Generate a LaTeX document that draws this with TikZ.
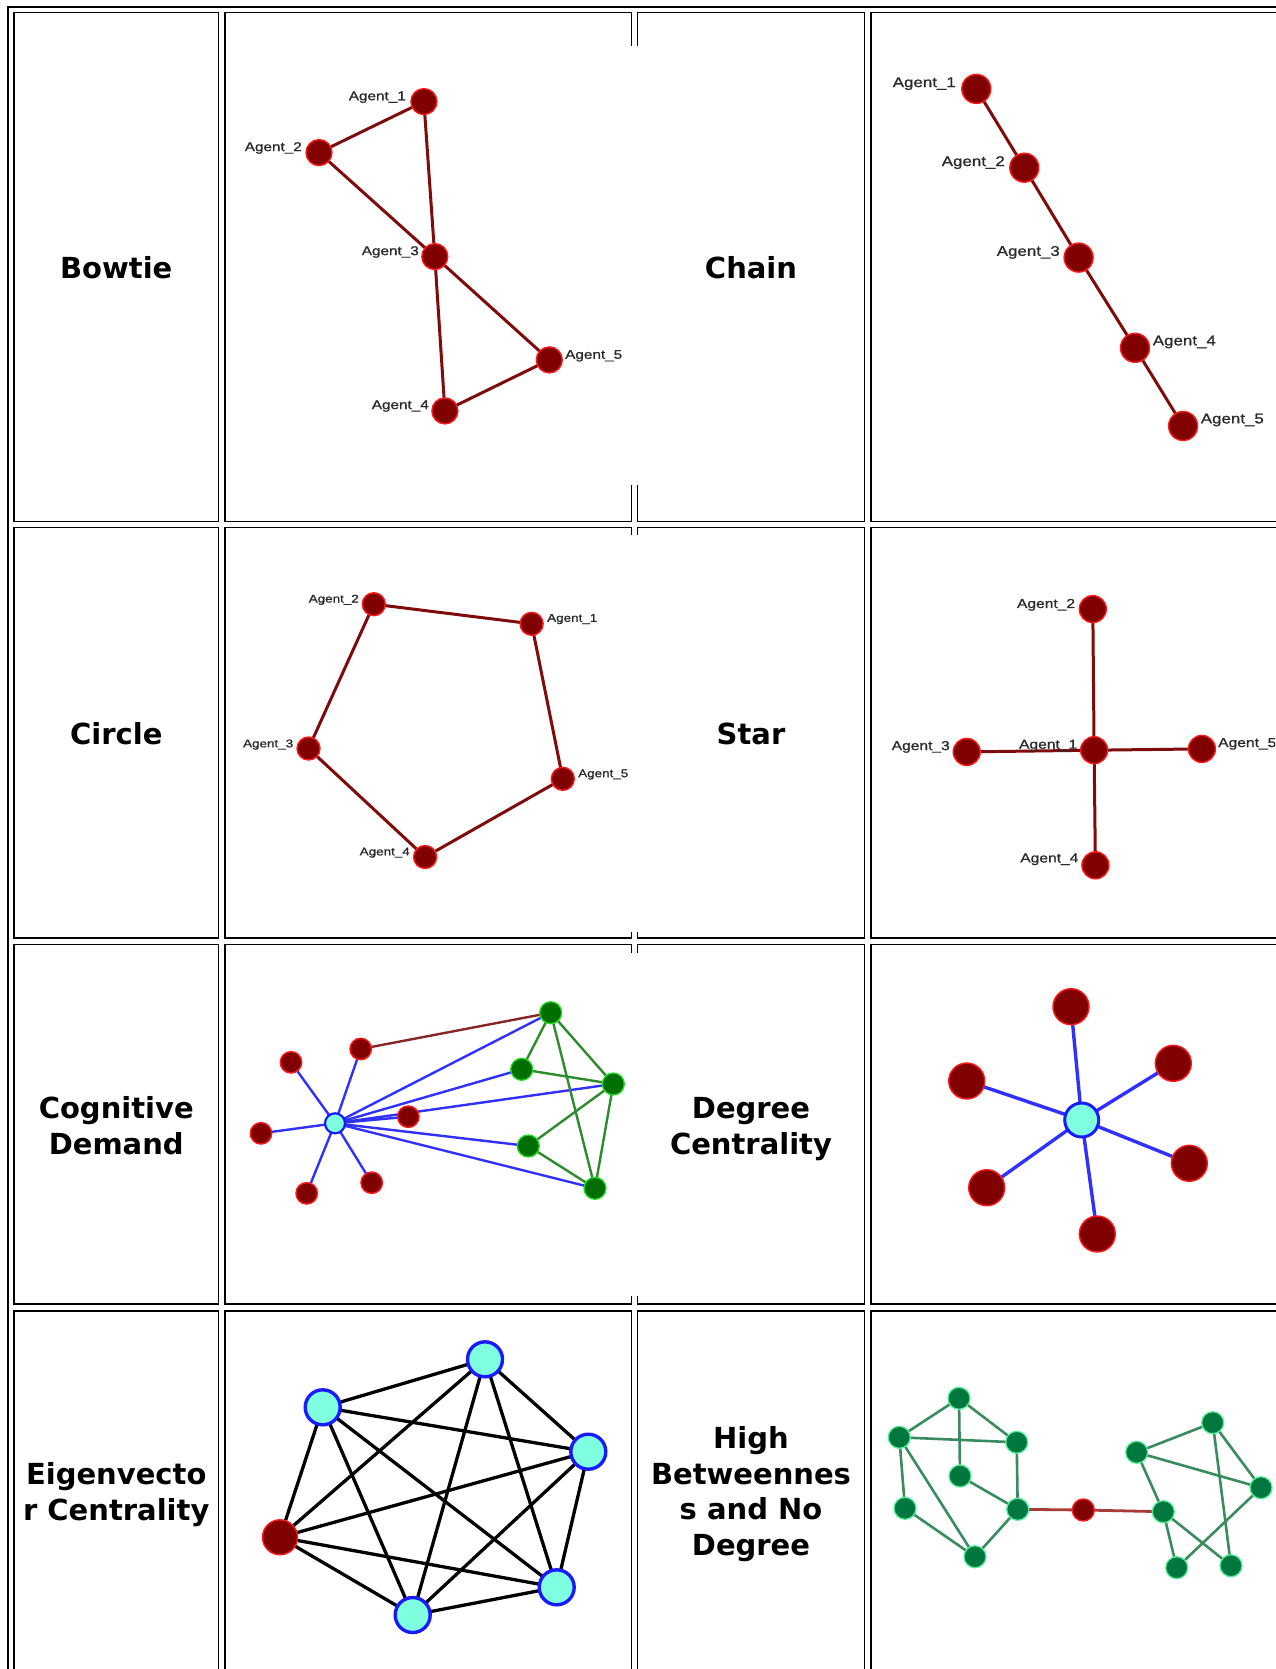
\documentclass[tikz,border=0pt]{standalone}
\usepackage{fontspec}
\newfontfamily\ttlfont{DejaVu Sans}
\newfontfamily\labfont{Liberation Sans}[FakeStretch=1.2,FakeBold=1]
\usetikzlibrary{backgrounds}
\pgfdeclarelayer{tablelayer}
\pgfdeclarelayer{edgelayer}
\pgfsetlayers{tablelayer,edgelayer,main}
\definecolor{nodered}{HTML}{800000}
\definecolor{rimred}{HTML}{FF1A1A}
\definecolor{edgered}{HTML}{7E0C0C}
\definecolor{aqua}{HTML}{7FFFE0}
\definecolor{rimblue}{HTML}{1A1AFF}
\definecolor{edgeblue}{HTML}{3030FF}
\definecolor{gnode}{HTML}{006E00}
\definecolor{grim}{HTML}{22DD22}
\definecolor{gedge}{HTML}{2E8B2E}
\definecolor{tnode}{HTML}{00773F}
\definecolor{trim}{HTML}{55EE99}
\definecolor{tedge}{HTML}{3A8C5E}
\definecolor{bridge}{HTML}{A83A3A}
\definecolor{brownedge}{HTML}{8B2525}
\definecolor{labgrey}{HTML}{2A2A2A}
\tikzset{
  cellline/.style={line width=1.5pt, draw=black},
  outerline/.style={line width=2.5pt, draw=black},
  agent/.style={circle, fill=nodered, draw=rimred, line width=1.4pt, inner sep=0pt, minimum size=#1},
  aquanode/.style={circle, fill=aqua, draw=rimblue, line width=#1, inner sep=0pt},
  greennode/.style={circle, fill=gnode, draw=grim, line width=1.3pt, inner sep=0pt, minimum size=22pt},
  tealnode/.style={circle, fill=tnode, draw=trim, line width=1.3pt, inner sep=0pt, minimum size=22pt},
  lab/.style={font=\labfont\fontsize{#1}{#1}\selectfont, text=labgrey, inner sep=0pt},
  ttl/.style={font=\ttlfont\bfseries\fontsize{29}{35.5}\selectfont, align=center, inner sep=0pt},
  redge/.style={draw=edgered, line width=3pt},
  bedge/.style={draw=edgeblue, line width=#1},
  gredge/.style={draw=gedge, line width=2.4pt},
  tedgestyle/.style={draw=tedge, line width=2.6pt},
  bridgeedge/.style={draw=bridge, line width=2.8pt},
  brownline/.style={draw=brownedge, line width=2.4pt},
  kedge/.style={draw=black, line width=3.3pt},
}
\begin{document}
\begin{tikzpicture}[x=1pt,y=-1pt]
\useasboundingbox (0,0) rectangle (1275,1669);
\clip (0,0) rectangle (1275,1669);
\begin{pgfonlayer}{tablelayer}
\fill[white] (0,0) rectangle (1275,1669);
\draw[outerline] (8,1700) -- (8,7) -- (1300,7);
\foreach \xa/\xb in {14/218.5, 225/631.5, 637.5/864.5, 871/1300}
  \foreach \ya/\yb in {12.5/521.5, 527.5/938, 944.5/1304, 1311/1700}
    \draw[cellline] (\xa,\ya) rectangle (\xb,\yb);
% image overflow hiding the column borders
\fill[white] (628,46.5) rectangle (641.5,485);
\fill[white] (628,535) rectangle (641.5,932);
\fill[white] (628,953) rectangle (641.5,1296);
\end{pgfonlayer}

% titles
\node[ttl] (tBow) at (116.25,268) {Bowtie};
\node[ttl] (tChain) at (751,268) {Chain};
\node[ttl] (tCircle) at (116.25,734) {Circle};
\node[ttl] (tStar) at (751,734) {Star};
\node[ttl] (tCog) at (116.25,1125.5) {Cognitive\\Demand};
\node[ttl] (tDeg) at (751,1129) {Degree\\Centrality};
\node[ttl] (tEig) at (116.25,1494.5) {Eigenvecto\\r Centrality};
\node[ttl] (tHigh) at (751,1494) {High\\Betweennes\\s and No\\Degree};

% ---------- Bowtie ----------
\node[agent=26pt] (b1) at (423.9,101.6) {};
\node[agent=26pt] (b2) at (319.0,152.6) {};
\node[agent=26pt] (b3) at (434.8,256.6) {};
\node[agent=26pt] (b4) at (444.9,410.9) {};
\node[agent=26pt] (b5) at (549.3,359.9) {};
\node[lab=12.75, anchor=east] (lb1) at (406,97.2) {Agent\_1};
\node[lab=12.75, anchor=east] (lb2) at (302,148) {Agent\_2};
\node[lab=12.75, anchor=east] (lb3) at (419,252) {Agent\_3};
\node[lab=12.75, anchor=west] (lb5) at (565,355.8) {Agent\_5};
\node[lab=12.75, anchor=east] (lb4) at (429,406) {Agent\_4};
\begin{pgfonlayer}{edgelayer}
\foreach \a/\b in {b1/b2, b1/b3, b2/b3, b3/b4, b3/b5, b4/b5}
  \draw[redge] (\a.center) -- (\b.center);
\end{pgfonlayer}

% ---------- Chain ----------
\node[agent=29pt] (c1) at (976.3,88.9) {};
\node[agent=29pt] (c2) at (1024.3,167.7) {};
\node[agent=29pt] (c3) at (1078.6,257.6) {};
\node[agent=29pt] (c4) at (1135.0,347.8) {};
\node[agent=29pt] (c5) at (1183.1,426.0) {};
\node[lab=14.1, anchor=east] (lc1) at (956,83.7) {Agent\_1};
\node[lab=14.1, anchor=east] (lc2) at (1005,162.6) {Agent\_2};
\node[lab=14.1, anchor=east] (lc3) at (1060,252.4) {Agent\_3};
\node[lab=14.1, anchor=west] (lc4) at (1152.6,342) {Agent\_4};
\node[lab=14.1, anchor=west] (lc5) at (1200.6,420) {Agent\_5};
\begin{pgfonlayer}{edgelayer}
\foreach \a/\b in {c1/c2, c2/c3, c3/c4, c4/c5}
  \draw[redge] (\a.center) -- (\b.center);
\end{pgfonlayer}

% ---------- Circle ----------
\node[agent=23pt] (r1) at (531.6,623.8) {};
\node[agent=23pt] (r2) at (373.8,604.2) {};
\node[agent=23pt] (r3) at (308.5,748.5) {};
\node[agent=23pt] (r4) at (425.1,857.0) {};
\node[agent=23pt] (r5) at (562.8,778.8) {};
\node[lab=11.2, anchor=east] (lr2) at (359,599.8) {Agent\_2};
\node[lab=11.2, anchor=west] (lr1) at (547,619.1) {Agent\_1};
\node[lab=11.2, anchor=east] (lr3) at (293.4,744.6) {Agent\_3};
\node[lab=11.2, anchor=west] (lr5) at (578,774.5) {Agent\_5};
\node[lab=11.2, anchor=east] (lr4) at (410,852.7) {Agent\_4};
\begin{pgfonlayer}{edgelayer}
\foreach \a/\b in {r2/r1, r1/r5, r5/r4, r4/r3, r3/r2}
  \draw[redge] (\a.center) -- (\b.center);
\end{pgfonlayer}

% ---------- Star ----------
\node[agent=27pt] (s1) at (1094.1,750.2) {};
\node[agent=27pt] (s2) at (1092.8,609.1) {};
\node[agent=27pt] (s3) at (966.7,751.9) {};
\node[agent=27pt] (s4) at (1095.4,865.3) {};
\node[agent=27pt] (s5) at (1201.9,748.9) {};
\begin{pgfonlayer}{edgelayer}
\foreach \b in {s2,s3,s4,s5}
  \draw[redge] (s1.center) -- (\b.center);
\end{pgfonlayer}
\node[lab=13, anchor=east] (ls2) at (1075.3,604.8) {Agent\_2};
\node[lab=13, anchor=east] (ls3) at (950,746.9) {Agent\_3};
\node[lab=13, anchor=east] (ls1) at (1077.4,745.6) {Agent\_1};
\node[lab=13, anchor=west] (ls5) at (1218,743.9) {Agent\_5};
\node[lab=13, anchor=east] (ls4) at (1078.6,859.3) {Agent\_4};

% ---------- Cognitive Demand ----------
\node[aquanode=2.2pt, minimum size=20pt] (k0) at (335,1123.3) {};
\node[agent=21.5pt] (kr1) at (291,1062.3) {};
\node[agent=21.5pt] (kr2) at (360.7,1049) {};
\node[agent=21.5pt] (kr3) at (261,1133.3) {};
\node[agent=21.5pt] (kr4) at (306.7,1193.3) {};
\node[agent=21.5pt] (kr5) at (371.7,1182.7) {};
\node[agent=21.5pt] (kr6) at (408.3,1116.7) {};
\node[greennode] (kg1) at (550.7,1012.7) {};
\node[greennode] (kg2) at (521.7,1069.3) {};
\node[greennode] (kg3) at (613.3,1084) {};
\node[greennode] (kg4) at (528.3,1146) {};
\node[greennode] (kg5) at (595,1188.3) {};
\begin{pgfonlayer}{edgelayer}
\foreach \b in {kr1,kr2,kr3,kr4,kr5,kr6,kg1,kg2,kg3,kg4,kg5}
  \draw[bedge=2.4pt] (k0.center) -- (\b.center);
\draw[brownline] (kr2.center) -- (kg1.center);
\foreach \a/\b in {kg1/kg2, kg1/kg3, kg1/kg5, kg2/kg3, kg3/kg4, kg3/kg5, kg4/kg5}
  \draw[gredge] (\a.center) -- (\b.center);
\end{pgfonlayer}

% ---------- Degree Centrality ----------
\node[aquanode=3pt, minimum size=34pt] (d0) at (1081.7,1120) {};
\node[agent=36pt] (d1) at (1071,1006.7) {};
\node[agent=36pt] (d2) at (1173.3,1063.3) {};
\node[agent=36pt] (d3) at (966.7,1081) {};
\node[agent=36pt] (d4) at (1189.3,1163.3) {};
\node[agent=36pt] (d5) at (986.7,1187.7) {};
\node[agent=36pt] (d6) at (1097.3,1234) {};
\begin{pgfonlayer}{edgelayer}
\foreach \b in {d1,d2,d3,d4,d5,d6}
  \draw[bedge=3.4pt] (d0.center) -- (\b.center);
\end{pgfonlayer}

% ---------- Eigenvector Centrality ----------
\node[aquanode=3.4pt, minimum size=35pt] (e1) at (485,1359.3) {};
\node[aquanode=3.4pt, minimum size=35pt] (e2) at (322.7,1407.3) {};
\node[aquanode=3.4pt, minimum size=35pt] (e3) at (588.3,1451.7) {};
\node[agent=35pt] (e4) at (280,1537.3) {};
\node[aquanode=3.4pt, minimum size=35pt] (e5) at (556.7,1587.3) {};
\node[aquanode=3.4pt, minimum size=35pt] (e6) at (412.7,1615) {};
\begin{pgfonlayer}{edgelayer}
\foreach \a/\b in {e1/e2, e1/e3, e1/e4, e1/e5, e1/e6, e2/e3, e2/e4, e2/e5, e2/e6, e3/e4, e3/e5, e3/e6, e4/e5, e4/e6, e5/e6}
  \draw[kedge] (\a.center) -- (\b.center);
\end{pgfonlayer}

% ---------- High Betweenness and No Degree ----------
\node[tealnode] (ha) at (959,1398.3) {};
\node[tealnode] (hb) at (899.3,1437.3) {};
\node[tealnode] (hc) at (1016.7,1442.3) {};
\node[tealnode] (hd) at (960,1476) {};
\node[tealnode] (he) at (905,1508.3) {};
\node[tealnode] (hf) at (1017.7,1509.3) {};
\node[tealnode] (hg) at (975,1556.7) {};
\node[agent=22pt] (hx) at (1083.3,1510) {};
\node[tealnode] (hh) at (1212.7,1422.7) {};
\node[tealnode] (hi) at (1136.7,1452.3) {};
\node[tealnode] (hj) at (1261,1487.7) {};
\node[tealnode] (hk) at (1163.3,1511.7) {};
\node[tealnode] (hl) at (1176.7,1567.7) {};
\node[tealnode] (hm) at (1231,1565.7) {};
\begin{pgfonlayer}{edgelayer}
\foreach \a/\b in {ha/hb, ha/hc, ha/hd, hb/hc, hb/he, hb/hg, hc/hf, hd/hf, he/hg, hf/hg, hh/hi, hh/hj, hh/hm, hi/hj, hi/hk, hk/hl, hk/hm, hj/hl}
  \draw[tedgestyle] (\a.center) -- (\b.center);
\draw[bridgeedge] (hf.center) -- (hx.center);
\draw[bridgeedge] (hx.center) -- (hk.center);
\end{pgfonlayer}
\end{tikzpicture}
\end{document}
